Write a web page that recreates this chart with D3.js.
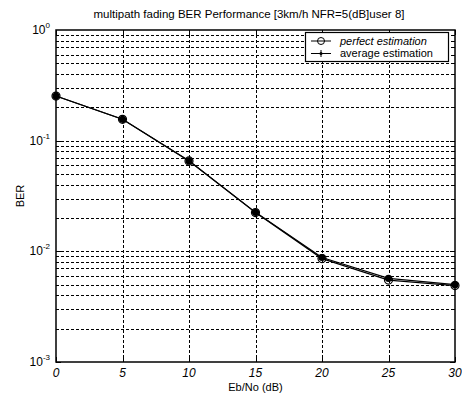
<!DOCTYPE html>
<html><head><meta charset="utf-8">
<script src="https://cdn.jsdelivr.net/npm/d3@7/dist/d3.min.js"></script>
<style>body{margin:0;background:#fff}svg{display:block}text{font-family:"Liberation Sans Narrow","Liberation Sans",Arial,sans-serif;fill:#000}</style>
</head><body>
<svg id="c" width="462" height="399"></svg>
<script>
const ebno = [0, 5, 10, 15, 20, 25, 30];
const berPerfect = [0.253, 0.156, 0.0656, 0.0224, 0.0086, 0.0055, 0.0049];
const berAverage = [0.253, 0.156, 0.0658, 0.0225, 0.0088, 0.0057, 0.0050];
const xTicks = [0, 5, 10, 15, 20, 25, 30];
const yExps = [0, -1, -2, -3];
const seriesNames = ["perfect estimation", "average estimation"];
const titleText = "multipath fading BER Performance [3km/h NFR=5(dB]user 8]";

const svg = d3.select("#c");
const L = 56, R = 455, T = 30, B = 362;
const x = d3.scaleLinear().domain([0, 30]).range([L, R]);
const y = d3.scaleLog().domain([1e-3, 1]).range([B, T]);

// grid
const g = svg.append("g").attr("stroke", "#000").attr("stroke-width", 1).attr("stroke-dasharray", "3,2");
const minor = [];
for (let e = -3; e < 0; e++) for (let m = 1; m < 10; m++) minor.push(m * Math.pow(10, e));
minor.filter(v => v > 1e-3).forEach(v => {
  g.append("line").attr("x1", L).attr("x2", R).attr("y1", Math.round(y(v)) + .5).attr("y2", Math.round(y(v)) + .5);
});
xTicks.slice(1, -1).forEach(v => {
  g.append("line").attr("x1", Math.round(x(v)) + .5).attr("x2", Math.round(x(v)) + .5).attr("y1", T).attr("y2", B);
});

// ticks inside on all sides
const tk = svg.append("g").attr("stroke", "#000");
minor.forEach(v => {
  const len = [1e-3, 1e-2, 1e-1].includes(v) ? 5 : 3;
  const yy = Math.round(y(v)) + .5;
  tk.append("line").attr("x1", L).attr("x2", L + len).attr("y1", yy).attr("y2", yy);
  tk.append("line").attr("x1", R).attr("x2", R - len).attr("y1", yy).attr("y2", yy);
});
xTicks.forEach(v => {
  const xx = Math.round(x(v)) + .5;
  tk.append("line").attr("x1", xx).attr("x2", xx).attr("y1", B).attr("y2", B - 5);
  tk.append("line").attr("x1", xx).attr("x2", xx).attr("y1", T).attr("y2", T + 5);
});

// box
svg.append("rect").attr("x", L).attr("y", T).attr("width", R - L).attr("height", B - T)
  .attr("fill", "none").attr("stroke", "#000").attr("stroke-width", 1.5);

// tick labels
xTicks.forEach(v => {
  svg.append("text").attr("x", x(v)).attr("y", B + 15).attr("text-anchor", "middle")
    .attr("font-size", 12).attr("font-style", "italic").text(v);
});
yExps.forEach(e => {
  const t = svg.append("text").attr("x", L - 6).attr("y", y(Math.pow(10, e)) + 4)
    .attr("text-anchor", "end").attr("font-size", 12);
  t.append("tspan").text("10");
  t.append("tspan").attr("dy", -6).attr("font-size", 8).text(e);
});

// axis titles
svg.append("text").attr("x", (L + R) / 2).attr("y", 391).attr("text-anchor", "middle")
  .attr("font-size", 11).text("Eb/No (dB)");
svg.append("text").attr("transform", `translate(24,${(T + B) / 2}) rotate(-90)`).attr("text-anchor", "middle")
  .attr("font-size", 11).text("BER");
svg.append("text").attr("x", 249).attr("y", 18).attr("text-anchor", "middle")
  .attr("font-size", 11.5).text(titleText);

// lines
const line = d3.line().x((d, i) => x(ebno[i])).y(d => y(d));
svg.append("path").attr("d", line(berPerfect)).attr("fill", "none").attr("stroke", "#000").attr("stroke-width", 1.2);
svg.append("path").attr("d", line(berAverage)).attr("fill", "none").attr("stroke", "#000").attr("stroke-width", 1.2);
berPerfect.forEach((d, i) => {
  svg.append("circle").attr("cx", x(ebno[i])).attr("cy", y(d)).attr("r", 4).attr("fill", "none").attr("stroke", "#000").attr("stroke-width", 1.2);
});
berAverage.forEach((d, i) => {
  svg.append("circle").attr("cx", x(ebno[i])).attr("cy", y(d)).attr("r", 3.6).attr("fill", "#000");
});

// legend
const lg = svg.append("g");
lg.append("rect").attr("x", 305.5).attr("y", 32.5).attr("width", 143).attr("height", 29)
  .attr("fill", "#fff").attr("stroke", "#000").attr("stroke-width", 1.2);
[0, 1].forEach(i => {
  const yy = 41 + i * 12.5;
  lg.append("line").attr("x1", 311).attr("x2", 331).attr("y1", yy).attr("y2", yy).attr("stroke", "#000");
  if (i === 0) lg.append("circle").attr("cx", 321).attr("cy", yy).attr("r", 3.5).attr("fill", "none").attr("stroke", "#000");
  else {
    lg.append("line").attr("x1", 321).attr("x2", 321).attr("y1", yy - 3.5).attr("y2", yy + 3.5).attr("stroke", "#000");
    lg.append("circle").attr("cx", 321).attr("cy", yy).attr("r", 1.5).attr("fill", "#000");
  }
  lg.append("text").attr("x", 340).attr("y", yy + 3.8).attr("font-size", 11)
    .attr("font-style", i === 0 ? "italic" : "normal").text(seriesNames[i]);
});
</script>
</body></html>
